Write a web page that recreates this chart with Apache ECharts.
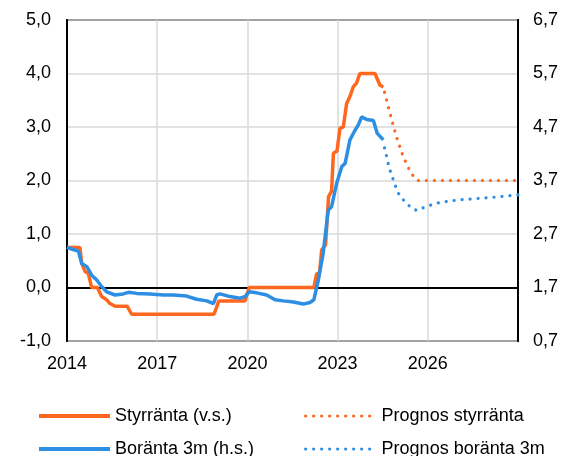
<!DOCTYPE html>
<html>
<head>
<meta charset="utf-8">
<script src="https://cdn.jsdelivr.net/npm/echarts@6/dist/echarts.min.js"></script>
<style>
  html, body { margin: 0; padding: 0; background: #fff; }
  #chart { width: 565px; height: 456px; }
</style>
</head>
<body>
<div id="chart"></div>
<script>
// styrränta (v.s.), utfall
const policyDates = [2014.0, 2014.43, 2014.49, 2014.6, 2014.71, 2014.82, 2015.01, 2015.15, 2015.32, 2015.43, 2015.6, 2016.0, 2016.15, 2018.89, 2019.05, 2019.92, 2020.06, 2022.21, 2022.3, 2022.4, 2022.47, 2022.6, 2022.7, 2022.8, 2022.86, 2022.98, 2023.08, 2023.19, 2023.3, 2023.41, 2023.52, 2023.63, 2023.74, 2024.24, 2024.41, 2024.52];
const policyRate = [0.75, 0.75, 0.45, 0.3, 0.26, 0.0, 0.0, -0.17, -0.23, -0.3, -0.35, -0.35, -0.5, -0.5, -0.25, -0.25, 0.0, 0.0, 0.25, 0.28, 0.7, 0.8, 1.7, 1.8, 2.51, 2.55, 2.98, 3.0, 3.44, 3.57, 3.75, 3.82, 4.0, 4.0, 3.78, 3.75];

// prognos styrränta
const policyFcDates = [2024.56, 2024.7, 2024.85, 2025.0, 2025.15, 2025.3, 2025.45, 2025.66, 2029.0];
const policyFc = [3.65, 3.35, 3.03, 2.74, 2.5, 2.3, 2.13, 2.0, 2.0];

// boränta 3m (h.s.), utfall
const mortDates = [2014.0, 2014.2, 2014.38, 2014.49, 2014.66, 2014.82, 2014.99, 2015.15, 2015.32, 2015.6, 2015.87, 2016.04, 2016.32, 2016.76, 2017.2, 2017.54, 2017.98, 2018.31, 2018.65, 2018.87, 2018.98, 2019.09, 2019.42, 2019.75, 2019.92, 2020.06, 2020.31, 2020.64, 2020.92, 2021.19, 2021.53, 2021.86, 2022.08, 2022.21, 2022.36, 2022.52, 2022.69, 2022.8, 2022.97, 2023.14, 2023.25, 2023.41, 2023.58, 2023.69, 2023.8, 2023.97, 2024.19, 2024.32, 2024.52];
const mortRate = [2.45, 2.41, 2.38, 2.15, 2.09, 1.93, 1.84, 1.72, 1.62, 1.56, 1.58, 1.61, 1.59, 1.58, 1.56, 1.56, 1.54, 1.48, 1.45, 1.40, 1.56, 1.58, 1.53, 1.50, 1.53, 1.62, 1.60, 1.56, 1.47, 1.45, 1.43, 1.39, 1.42, 1.47, 1.84, 2.34, 3.15, 3.21, 3.65, 3.96, 4.02, 4.46, 4.64, 4.74, 4.89, 4.84, 4.82, 4.58, 4.46];

// prognos boränta 3m
const mortFcDates = [2024.56, 2024.63, 2024.71, 2024.81, 2024.91, 2025.01, 2025.17, 2025.31, 2025.51, 2025.64, 2025.97, 2026.4, 2027.07, 2028.07, 2029.0];
const mortFc = [4.31, 4.15, 3.95, 3.78, 3.62, 3.47, 3.35, 3.26, 3.17, 3.14, 3.22, 3.29, 3.34, 3.38, 3.43];

const xTicks = [2014, 2017, 2020, 2023, 2026];
const rightOffset = 1.7; // höger axel = vänster + 1,7

const orange = '#FF671F';
const blue = '#2D8FE3';
const font = 'Liberation Sans, Arial, sans-serif';

function pairs(xs, ys, shift) {
  return xs.map((x, i) => [x, ys[i] - (shift || 0)]);
}
function comma(v) {
  return v.toFixed(1).replace('.', ',');
}
// one legend per item, so the 2x2 layout is fixed
function legendItem(name, left, top, lineWidth) {
  return {
    left: left, top: top, padding: 0,
    itemWidth: 71, itemHeight: 14,
    data: [name],
    lineStyle: { width: lineWidth },
    itemStyle: { color: 'rgba(0,0,0,0)', borderWidth: 0, opacity: 0 },
    textStyle: { fontFamily: font, fontSize: 18, color: '#000', lineHeight: 20 }
  };
}

const chart = echarts.init(document.getElementById('chart'), null, { renderer: 'canvas' });

const dotted = { width: 3.2, type: [0.1, 7.9], cap: 'round' };

let option = {
  animation: false,
  grid: {
    left: 67, right: 47, top: 20, bottom: 115,
    show: true, borderColor: '#000', borderWidth: 2, backgroundColor: 'transparent'
  },
  legend: [
    legendItem('Styrränta (v.s.)', 37, 406, 4),
    legendItem('Boränta 3m (h.s.)', 37, 439, 4),
    legendItem('Prognos styrränta', 304, 406, 3.2),
    legendItem('Prognos boränta 3m', 304, 439, 3.2)
  ],
  xAxis: {
    type: 'value', min: 2014, max: 2029, interval: 3,
    axisLine: { show: true, lineStyle: { color: '#000', width: 2 } },
    axisTick: { show: false },
    splitLine: { show: true, lineStyle: { color: '#D9D9D9', width: 1.5 } },
    axisLabel: {
      margin: 14, fontFamily: font, fontSize: 18, color: '#000',
      formatter: v => (xTicks.indexOf(v) >= 0 ? String(v) : '')
    }
  },
  yAxis: [
    {
      type: 'value', min: -1, max: 5, interval: 1,
      axisLine: { show: true, lineStyle: { color: '#000', width: 2 } },
      axisTick: { show: false },
      splitLine: { show: true, lineStyle: { color: '#D9D9D9', width: 1.5 } },
      axisLabel: { margin: 16, fontFamily: font, fontSize: 18, color: '#000', formatter: comma }
    },
    {
      type: 'value', min: -1, max: 5, interval: 1, position: 'right',
      axisLine: { show: true, lineStyle: { color: '#000', width: 2 } },
      axisTick: { show: false },
      splitLine: { show: false },
      axisLabel: { margin: 15, fontFamily: font, fontSize: 18, color: '#000', formatter: v => comma(v + rightOffset) }
    }
  ],
  series: [
    {
      name: 'Styrränta (v.s.)', type: 'line', yAxisIndex: 0,
      symbol: 'none', color: orange,
      lineStyle: { width: 3.5, color: orange },
      data: pairs(policyDates, policyRate),
      markLine: {
        silent: true, symbol: 'none', z: 1,
        label: { show: false },
        lineStyle: { color: '#000', width: 2, type: 'solid' },
        data: [{ yAxis: 0 }]
      }
    },
    {
      name: 'Boränta 3m (h.s.)', type: 'line', yAxisIndex: 1,
      symbol: 'none', color: blue,
      lineStyle: { width: 3.5, color: blue },
      data: pairs(mortDates, mortRate, rightOffset)
    },
    {
      name: 'Prognos styrränta', type: 'line', yAxisIndex: 0,
      symbol: 'none', color: orange,
      lineStyle: Object.assign({ color: orange }, dotted),
      data: pairs(policyFcDates, policyFc)
    },
    {
      name: 'Prognos boränta 3m', type: 'line', yAxisIndex: 1,
      symbol: 'none', color: blue,
      lineStyle: Object.assign({ color: blue }, dotted),
      data: pairs(mortFcDates, mortFc, rightOffset)
    }
  ]
};

chart.setOption(option);
</script>
</body>
</html>
